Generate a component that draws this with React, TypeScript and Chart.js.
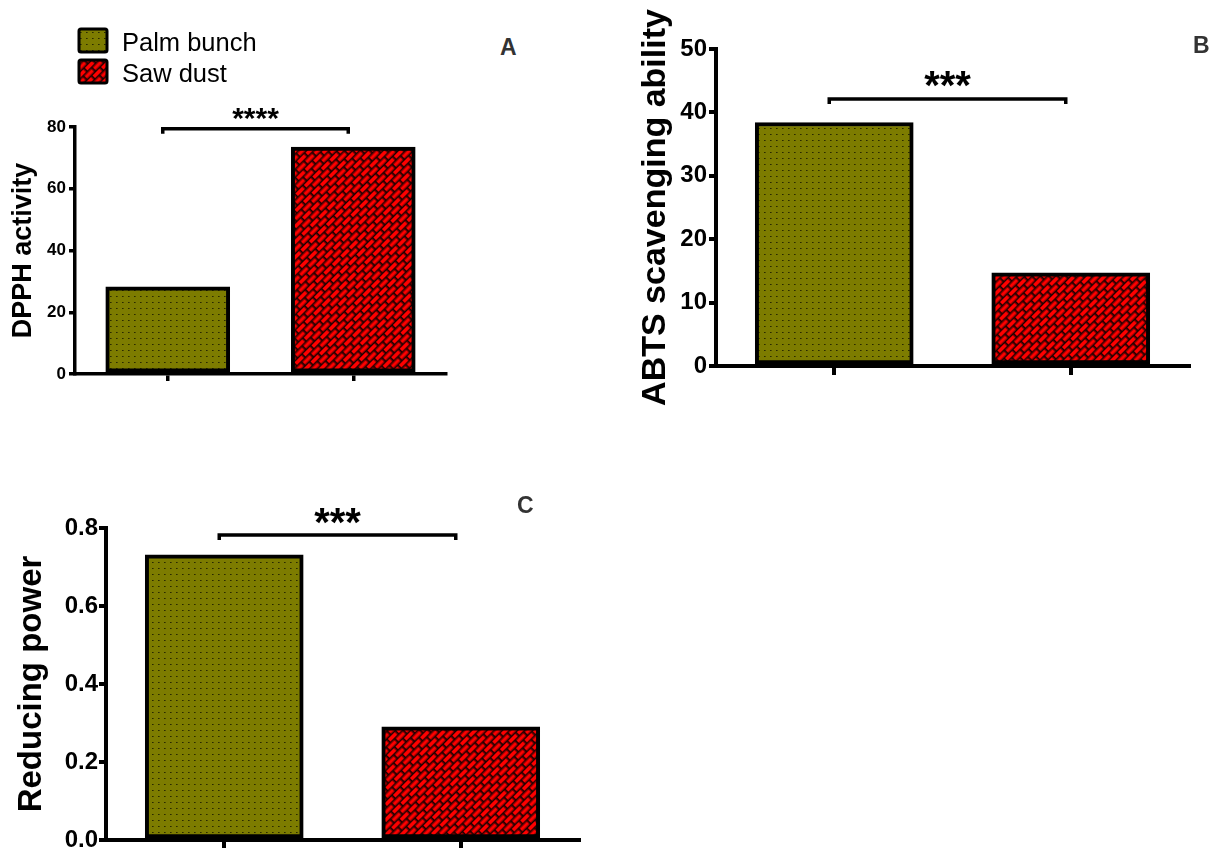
import React, { useEffect, useRef } from 'react';
import { Chart, registerables } from 'chart.js';

Chart.register(...registerables);

// ---------------- data ----------------
const seriesNames = ['Palm bunch', 'Saw dust'];
const dpphValues = [28.2, 73.5];
const abtsValues = [38.4, 14.7];
const reducingValues = [0.731, 0.29];
const dpphTicks = [0, 20, 40, 60, 80];
const abtsTicks = [0, 10, 20, 30, 40, 50];
const reducingTicks = [0, 0.2, 0.4, 0.6, 0.8];
const yTitles = ['DPPH activity', 'ABTS scavenging ability', 'Reducing power'];
const panelLetters = ['A', 'B', 'C'];
const significance = ['****', '***', '***'];
const bracketLevels = [79.4, 42.1, 0.782];

const FONT = "Arial, 'Liberation Sans', sans-serif";

function makePatterns() {
  const p = document.createElement('canvas');
  p.width = 6;
  p.height = 6;
  const pc = p.getContext('2d')!;
  pc.fillStyle = '#7d7c00';
  pc.fillRect(0, 0, 6, 6);
  pc.fillStyle = '#2a2a00';
  pc.fillRect(2, 2, 1, 1);
  pc.fillStyle = '#4a4a00';
  pc.fillRect(3, 2, 1, 1);

  const s = document.createElement('canvas');
  s.width = 10;
  s.height = 9;
  const sc = s.getContext('2d')!;
  sc.fillStyle = '#1a0000';
  sc.fillRect(0, 0, 10, 9);
  sc.fillStyle = '#ff0000';
  sc.fillRect(0, 0, 8.4, 3.1);
  sc.fillRect(5, 4.5, 8.4, 3.1);
  sc.fillRect(-5, 4.5, 8.4, 3.1);

  const ctx = document.createElement('canvas').getContext('2d')!;
  const palm = ctx.createPattern(p, 'repeat')!;
  const saw = ctx.createPattern(s, 'repeat')!;
  try {
    saw.setTransform(new DOMMatrix().rotate(-45).scale(1.2));
  } catch (e) {}
  return { palm, saw };
}

const bracketPlugin = {
  id: 'bracket',
  afterDatasetsDraw(chart: any, _args: any, opts: any) {
    const { ctx } = chart;
    const x = chart.scales.x;
    const y = chart.scales.y;
    const yy = y.getPixelForValue(opts.level);
    const x0 = x.getPixelForValue(0) - 5;
    const x1 = x.getPixelForValue(1) - 5;
    ctx.save();
    ctx.strokeStyle = '#000';
    ctx.lineWidth = opts.lineWidth;
    ctx.lineJoin = 'miter';
    ctx.beginPath();
    ctx.moveTo(x0, yy + opts.hook);
    ctx.lineTo(x0, yy);
    ctx.lineTo(x1, yy);
    ctx.lineTo(x1, yy + opts.hook);
    ctx.stroke();
    ctx.fillStyle = '#000';
    ctx.font = `bold ${opts.size}px ${FONT}`;
    ctx.textAlign = 'center';
    ctx.textBaseline = 'alphabetic';
    ctx.fillText(opts.text, (x0 + x1) / 2, yy - opts.gap + 0.57 * opts.size);
    ctx.restore();
  },
};

const legendPlugin = {
  id: 'boxLegend',
  afterDraw(chart: any, _args: any, opts: any) {
    if (!opts || !opts.show) return;
    const { ctx } = chart;
    ctx.save();
    opts.fills.forEach((fill: any, i: number) => {
      const bx = 79;
      const by = 29 + i * 31;
      ctx.fillStyle = fill;
      ctx.fillRect(bx, by, 28, 23);
      ctx.strokeStyle = '#000';
      ctx.lineWidth = 3;
      ctx.beginPath();
      (ctx as any).roundRect ? (ctx as any).roundRect(bx, by, 28, 23, 2) : ctx.rect(bx, by, 28, 23);
      ctx.stroke();
      ctx.fillStyle = '#000';
      ctx.font = `25.5px ${FONT}`;
      ctx.textAlign = 'left';
      ctx.textBaseline = 'alphabetic';
      ctx.fillText(opts.labels[i], 122, by + 22);
    });
    ctx.restore();
  },
};

type PanelDef = {
  left: number;
  top: number;
  width: number;
  height: number;
  padTop: number;
  padRight: number;
  yWidth: number;
  xHeight: number;
  values: number[];
  ticks: number[];
  decimals: number;
  title: string;
  titleSize: number;
  titlePad: number;
  tickSize: number;
  tickPad: number;
  yTickLen: number;
  xTickLen: number;
  lineWidth: number;
  barThickness: number;
  level: number;
  stars: string;
  starSize: number;
  starGap: number;
  legend: boolean;
};

const panels: PanelDef[] = [
  {
    left: 0, top: 0, width: 460, height: 394, padTop: 127, padRight: 14, yWidth: 75, xHeight: 20,
    values: dpphValues, ticks: dpphTicks, decimals: 0, title: yTitles[0], titleSize: 27, titlePad: 7,
    tickSize: 17, tickPad: 3, yTickLen: 6, xTickLen: 7, lineWidth: 3.5, barThickness: 124,
    level: bracketLevels[0], stars: significance[0], starSize: 30, starGap: 18, legend: true,
  },
  {
    left: 630, top: 0, width: 579, height: 420, padTop: 49, padRight: 20, yWidth: 86, xHeight: 54,
    values: abtsValues, ticks: abtsTicks, decimals: 0, title: yTitles[1], titleSize: 34, titlePad: 5,
    tickSize: 24, tickPad: 2, yTickLen: 7, xTickLen: 9, lineWidth: 4, barThickness: 158,
    level: bracketLevels[1], stars: significance[1], starSize: 40, starGap: 23, legend: false,
  },
  {
    left: 0, top: 470, width: 600, height: 390, padTop: 58, padRight: 21, yWidth: 106, xHeight: 20,
    values: reducingValues, ticks: reducingTicks, decimals: 1, title: yTitles[2], titleSize: 33, titlePad: 12,
    tickSize: 24, tickPad: 1, yTickLen: 7, xTickLen: 9, lineWidth: 4, barThickness: 158,
    level: bracketLevels[2], stars: significance[2], starSize: 40, starGap: 22, legend: false,
  },
];

const letterPos = [
  { left: 500, top: 36 },
  { left: 1193, top: 34 },
  { left: 517, top: 494 },
];

function Panel({ def }: { def: PanelDef }) {
  const ref = useRef<HTMLCanvasElement | null>(null);
  useEffect(() => {
    const canvas = ref.current;
    if (!canvas) return;
    const { palm, saw } = makePatterns();
    const chart = new Chart(canvas, {
      type: 'bar',
      data: {
        labels: seriesNames,
        datasets: [
          {
            label: def.title,
            data: def.values,
            backgroundColor: [palm, saw] as any,
            borderColor: '#000',
            borderWidth: 4,
            borderSkipped: false,
            barThickness: def.barThickness,
          } as any,
        ],
      },
      options: {
        responsive: false,
        animation: false,
        devicePixelRatio: 1,
        layout: { padding: { top: def.padTop, right: def.padRight, left: 0, bottom: 0 } },
        plugins: {
          legend: { display: false },
          tooltip: { enabled: false },
          bracket: {
            level: def.level,
            text: def.stars,
            size: def.starSize,
            gap: def.starGap,
            hook: 5,
            lineWidth: 3.5,
          },
          boxLegend: { show: def.legend, fills: [palm, saw], labels: seriesNames },
        } as any,
        scales: {
          x: {
            grid: {
              offset: false,
              drawOnChartArea: false,
              drawTicks: true,
              tickLength: def.xTickLen,
              lineWidth: def.lineWidth,
              color: '#000',
            },
            border: { display: true, width: def.lineWidth, color: '#000' },
            ticks: { display: false },
            afterFit: (s: any) => {
              s.height = def.xHeight;
            },
          } as any,
          y: {
            min: def.ticks[0],
            max: def.ticks[def.ticks.length - 1],
            grid: {
              drawOnChartArea: false,
              drawTicks: true,
              tickLength: def.yTickLen,
              lineWidth: def.lineWidth,
              color: '#000',
            },
            border: { display: true, width: def.lineWidth, color: '#000' },
            ticks: {
              color: '#000',
              padding: def.tickPad,
              font: { family: FONT, size: def.tickSize, weight: 'bold' },
              callback: (v: any) => Number(v).toFixed(def.decimals),
            },
            afterBuildTicks: (s: any) => {
              s.ticks = def.ticks.map((v) => ({ value: v }));
            },
            afterFit: (s: any) => {
              s.width = def.yWidth;
            },
            title: {
              display: true,
              text: def.title,
              color: '#000',
              font: { family: FONT, size: def.titleSize, weight: 'bold', lineHeight: 1.2 },
              padding: { top: def.titlePad, bottom: 0 },
            },
          } as any,
        },
      },
      plugins: [bracketPlugin, legendPlugin],
    });
    return () => chart.destroy();
  }, [def]);
  return (
    <canvas
      ref={ref}
      width={def.width}
      height={def.height}
      style={{ position: 'absolute', left: def.left, top: def.top, width: def.width, height: def.height }}
    />
  );
}

export default function App() {
  return (
    <div
      style={{
        position: 'absolute',
        left: 0,
        top: 0,
        width: 1209,
        height: 848,
        overflow: 'hidden',
        background: '#fff',
      }}
    >
      {panels.map((p, i) => (
        <Panel key={i} def={p} />
      ))}
      {panelLetters.map((t, i) => (
        <div
          key={t}
          style={{
            position: 'absolute',
            left: letterPos[i].left,
            top: letterPos[i].top,
            fontFamily: FONT,
            fontWeight: 'bold',
            fontSize: 23,
            lineHeight: 1,
            color: '#333',
          }}
        >
          {t}
        </div>
      ))}
    </div>
  );
}
